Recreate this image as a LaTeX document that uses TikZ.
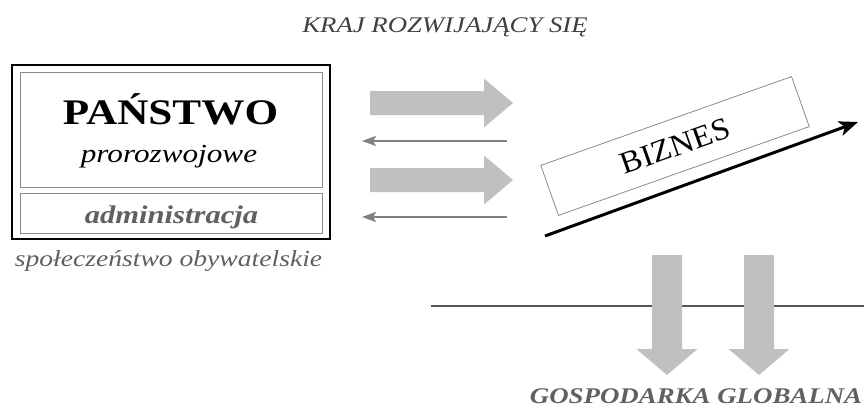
\documentclass[tikz,border=0pt]{standalone}
\usepackage{fontspec}
\setmainfont{Liberation Serif}
\usetikzlibrary{arrows.meta}
\definecolor{arrowfill}{HTML}{C0C0C0}
\definecolor{thinarrow}{HTML}{808080}
\definecolor{linegray}{HTML}{555555}
\definecolor{textgray}{HTML}{404040}
\definecolor{admgray}{HTML}{606060}
\definecolor{boxgray}{HTML}{8A8A8A}
\newcommand\wide[1]{\scalebox{1.2}[1]{#1}}
\tikzset{
  outerbox/.style={draw=black, line width=2pt},
  innerbox/.style={draw=boxgray, line width=0.9pt},
  bigarrow/.style={fill=arrowfill, draw=none},
  backarrow/.style={draw=thinarrow, line width=2pt, -{Stealth[length=14pt,width=10pt,inset=3pt]}},
  growth/.style={draw=black, line width=3pt, -{Stealth[length=19pt,width=15pt,inset=5pt]}},
  lbl/.style={inner sep=0pt, anchor=base},
}
\begin{document}
\begin{tikzpicture}[x=1pt,y=-1pt]
\useasboundingbox (0,0) rectangle (864,415);
% title
\node[lbl, text=textgray] (title) at (445,32) {\fontsize{22.3}{24}\selectfont\wide{\itshape KRAJ ROZWIJAJĄCY SIĘ}};
% state box
\draw[outerbox] (12,65) rectangle (330,239);
\node[innerbox, minimum width=302pt, minimum height=115pt, inner sep=0pt] (state) at (171,129.5) {};
\node[innerbox, minimum width=302pt, minimum height=40pt, inner sep=0pt] (adm) at (171,213) {};
\node[lbl] (panstwo) at (170.5,124) {\fontsize{36}{40}\selectfont\wide{\bfseries PAŃSTWO}};
\node[lbl] (pro) at (169,162) {\fontsize{26}{30}\selectfont\wide{\itshape prorozwojowe}};
\node[lbl, text=admgray] (admtext) at (171.5,223) {\fontsize{25.5}{30}\selectfont\wide{\bfseries\itshape administracja}};
\node[lbl, text=admgray] (civil) at (168.5,266) {\fontsize{23}{26}\selectfont\wide{\itshape społeczeństwo obywatelskie}};
% big arrows to business
\foreach \y in {103,180}{
  \fill[bigarrow] (370,\y-12) -- (484,\y-12) -- (484,\y-24.5) -- (513,\y) -- (484,\y+24.5) -- (484,\y+12) -- (370,\y+12) -- cycle;
}
% thin back arrows
\coordinate (b1s) at (507,141); \coordinate (b1e) at (362,141);
\coordinate (b2s) at (507,217); \coordinate (b2e) at (362,217);
\draw[backarrow] (b1s) -- (b1e);
\draw[backarrow] (b2s) -- (b2e);
% business box
\node[draw=boxgray, line width=0.8pt, rotate=19.5, minimum width=266pt, minimum height=53pt, inner sep=0pt] (biz) at (675,146) {\fontsize{31}{33}\selectfont\scalebox{1.05}[1]{BIZNES}};
% growth arrow
\coordinate (g1) at (545,236); \coordinate (g2) at (858,122);
\draw[growth] (g1) -- (g2);
% horizontal line
\coordinate (h1) at (431,306); \coordinate (h2) at (864,306);
\draw[draw=linegray, line width=2.5pt] (h1) -- (h2);
% down arrows
\foreach \x in {667,759}{
  \fill[bigarrow] (\x-15,255) -- (\x+15,255) -- (\x+15,349) -- (\x+30.5,349) -- (\x,375) -- (\x-30.5,349) -- (\x-15,349) -- cycle;
}
\node[lbl, text=admgray] (global) at (696,403) {\fontsize{22.4}{26}\selectfont\wide{\bfseries\itshape GOSPODARKA GLOBALNA}};
\end{tikzpicture}
\end{document}
